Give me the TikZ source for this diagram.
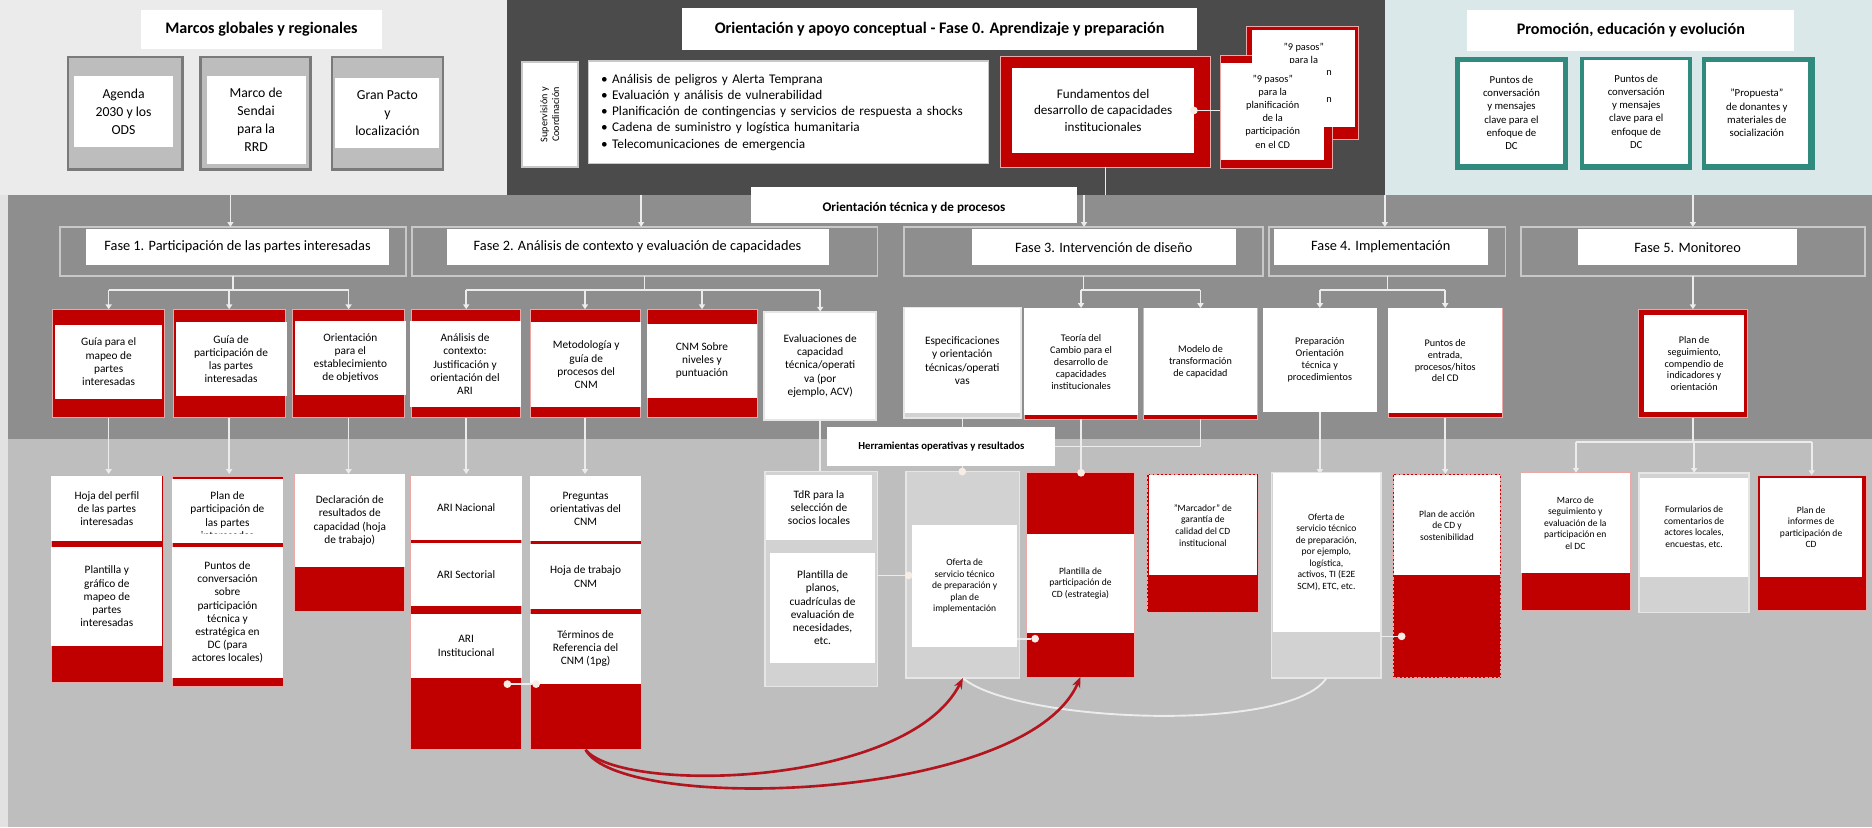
\documentclass[tikz,border=0pt]{standalone}
\usepackage{fontspec}
\setmainfont{Carlito}
\usetikzlibrary{arrows.meta}

\definecolor{bgL}{HTML}{EBEBEB}
\definecolor{bgD}{HTML}{4B4B4B}
\definecolor{bgT}{HTML}{DAE8E9}
\definecolor{bgM}{HTML}{8E8E8E}
\definecolor{bgB}{HTML}{BEBEBE}
\definecolor{strip}{HTML}{E2E2E2}
\definecolor{cred}{HTML}{C00000}
\definecolor{cpink}{HTML}{EBA8A8}
\definecolor{cgrayf}{HTML}{BDBDBD}
\definecolor{cgrayd}{HTML}{7A7A7A}
\definecolor{cteal}{HTML}{318A7E}
\definecolor{cframe}{HTML}{C8C8C8}
\definecolor{cline}{HTML}{ECECEC}
\definecolor{clg}{HTML}{D2D2D2}
\definecolor{clgd}{HTML}{E6E6E6}
\definecolor{carc}{HTML}{B3151E}
\definecolor{cdot}{HTML}{F8EDE4}

% box from top-left (x1,y1) to bottom-right (x2,y2)
\newcommand{\bx}[7]{\node[#2, anchor=north west, minimum width={(#5)-(#3)}, minimum height={(#6)-(#4)}] (#1) at (#3,#4) {#7};}

\tikzset{
  every node/.style={inner sep=0pt, outer sep=0pt},
  wbox/.style={fill=white, align=center},
  gbox/.style={fill=cgrayf, draw=cgrayd, line width=2pt},
  tbox/.style={fill=cteal},
  redbox/.style={fill=cred, draw=cpink, line width=0.7pt},
  reddash/.style={fill=cred, draw=cpink, line width=1.4pt, dash pattern=on 2pt off 1.5pt},
  lgbox/.style={fill=clg, draw=clgd, line width=1.5pt},
  fout/.style={draw=cframe, line width=1.4pt},
  conn/.style={draw=cline, line width=1.3pt},
  arr/.style={conn, -{Triangle[width=5pt,length=4pt]}},
  dot/.style={circle, fill=cdot, minimum size=6.5pt},
  redarc/.style={draw=carc, line width=2.2pt, -{Stealth[length=9pt,width=7pt]}},
  ttl/.style={font=\bfseries\fontsize{13.5}{16}\selectfont},
  t115/.style={font=\fontsize{11.5}{15}\selectfont},
  t11/.style={font=\fontsize{11}{13.5}\selectfont},
  tlist/.style={font=\fontsize{11.1}{13.6}\selectfont},
  t9/.style={font=\fontsize{9.5}{11}\selectfont},
  t9s/.style={font=\fontsize{9}{11}\selectfont},
  t87/.style={font=\fontsize{8.7}{11}\selectfont},
  t85/.style={font=\fontsize{8.5}{10}\selectfont},
  t8/.style={font=\fontsize{8}{9.7}\selectfont},
  tfase/.style={font=\fontsize{12}{14}\selectfont},
  tsup/.style={font=\fontsize{8.5}{10}\selectfont},
  therr/.style={font=\bfseries\fontsize{9}{11}\selectfont},
  tot/.style={font=\bfseries\fontsize{11}{13}\selectfont}
}

\begin{document}
\begin{tikzpicture}[x=1pt, y=-1pt]
\useasboundingbox (0,0) rectangle (1568,693);

% background bands
\fill[bgL] (0,0) rectangle (425,163);
\fill[bgD] (425,0) rectangle (1160,163);
\fill[bgT] (1160,0) rectangle (1568,163);
\fill[bgM] (0,163) rectangle (1568,368);
\fill[bgB] (0,368) rectangle (1568,693);
\fill[strip] (0,163) rectangle (7,693);

% ---------- global and regional frameworks ----------
\bx{tlt}{wbox,ttl}{118}{8}{320}{41}{Marcos globales y regionales}
\bx{gAo}{gbox}{57}{48}{153}{142}{}
\bx{gA}{wbox,t115}{62}{64}{145}{123}{Agenda\\2030 y los\\ODS}
\bx{gBo}{gbox}{168}{48}{260}{142}{}
\bx{gB}{wbox,t115}{173}{64}{256}{137}{Marco de\\Sendai\\para la\\RRD}
\bx{gCo}{gbox}{278}{48}{371}{142}{}
\bx{gC}{wbox,t115}{281}{65}{368}{124}{Gran Pacto\\y\\localización}

% ---------- phase 0 ----------
\bx{tmt}{wbox,ttl}{571}{7}{1003}{42}{Orientación y apoyo conceptual - Fase 0. Aprendizaje y preparación}
\bx{sup}{wbox,draw=cframe,line width=1.5pt}{437}{52}{484}{140}{}
\node[rotate=90, tsup, align=center] (suptx) at (sup.center) {Supervisión y\\Coordinación};
\bx{lst}{wbox,draw=cframe,line width=1.5pt,tlist,align=left,text width=314pt}{493}{51}{828}{137}{%
• Análisis de peligros y Alerta Temprana\\
• Evaluación y análisis de vulnerabilidad\\
• Planificación de contingencias y servicios de respuesta a shocks\\
• Cadena de suministro y logística humanitaria\\
• Telecomunicaciones de emergencia}
\bx{fundo}{redbox}{838}{47}{1014}{140}{}
\bx{fund}{wbox,t11}{848}{57}{1000}{128}{Fundamentos del\\desarrollo de capacidades\\institucionales}

% the "9 pasos" cards: back card partly hidden by the front one
\bx{p9bo}{redbox}{1044}{22}{1138}{117}{}
\bx{p9fo}{redbox}{1022}{46}{1116}{141}{}
\bx{p9b}{wbox}{1049}{25}{1135}{106}{}
\node[t87, align=center, anchor=north] (p9btx) at (1092,36) {"9 pasos"\\para la};
\node[t87, anchor=base east] (p9bn1) at (1115.5,63.5) {n};
\node[t87, anchor=base east] (p9bn2) at (1115.5,85.5) {n};
\draw[conn] (fund.east) -- (p9fo.west |- fund.east);
\bx{p9f}{wbox,t87}{1023}{53}{1109}{134}{"9 pasos"\\para la\\planificación\\de la\\participación\\en el CD}
\node[dot] (d0) at (fund.east) {};

% ---------- promotion ----------
\bx{trt}{wbox,ttl}{1229}{8}{1503}{43}{Promoción, educación y evolución}
\bx{tAo}{tbox}{1219}{48}{1313}{142}{}
\bx{tA}{wbox,t9s}{1223}{52}{1309}{137}{Puntos de\\conversación\\y mensajes\\clave para el\\enfoque de\\DC}
\bx{tBo}{tbox}{1323}{48}{1417}{142}{}
\bx{tB}{wbox,t9s}{1327}{50}{1414}{137}{Puntos de\\conversación\\y mensajes\\clave para el\\enfoque de\\DC}
\bx{tCo}{tbox}{1426}{48}{1520}{142}{}
\bx{tC}{wbox,t9s}{1429}{52}{1514}{137}{"Propuesta"\\de donantes y\\materiales de\\socialización}

% ---------- phases ----------
\coordinate (s0) at (926,163);
\coordinate (s1) at (193,163);
\coordinate (s2) at (537,163);
\coordinate (s3) at (908,163);
\coordinate (s4) at (1160,163);
\coordinate (s5) at (1418,163);
\draw[conn] (fundo.south) -- (s0);

\bx{f1o}{fout}{50}{190}{340}{231}{}
\bx{f2o}{fout}{345}{190}{735}{231}{}
\bx{f3o}{fout}{757}{190}{1058}{231}{}
\bx{f4o}{fout}{1063}{190}{1261}{231}{}
\bx{f5o}{fout}{1274}{190}{1562}{231}{}
\draw[arr] (s1) -- (s1 |- f1o.north);
\draw[arr] (s2) -- (s2 |- f2o.north);
\draw[arr] (s3) -- (s3 |- f3o.north);
\draw[arr] (s4) -- (s4 |- f4o.north);
\draw[arr] (s5) -- (s5 |- f5o.north);
\bx{f1}{wbox,tfase}{72}{192}{326}{222}{Fase 1. Participación de las partes interesadas}
\bx{f2}{wbox,tfase}{374}{192}{694}{222}{Fase 2. Análisis de contexto y evaluación de capacidades}
\bx{f3}{wbox,tfase}{814}{192}{1035}{222}{Fase 3. Intervención de diseño}
\bx{f4}{wbox,tfase}{1067}{192}{1246}{222}{Fase 4. Implementación}
\bx{f5}{wbox,tfase}{1322}{192}{1505}{222}{Fase 5. Monitoreo}

\bx{ot}{wbox}{629}{157}{902}{187}{}
\begin{scope}
  \clip (ot.north west) rectangle ([yshift=9pt]ot.south east);
  \node[tot, anchor=base] (ottx) at ([yshift=9.5pt]ot.south) {Orientación técnica y de procesos};
\end{scope}

% ---------- first row of guidance ----------
\bx{r1o}{redbox}{44}{259}{138}{350}{}
\bx{r1}{wbox,t9}{46}{272}{136}{334}{Guía para el\\mapeo de\\partes\\interesadas}
\bx{r2o}{redbox}{145}{259}{239}{350}{}
\bx{r2}{wbox,t9}{147}{270}{240}{332}{Guía de\\participación de\\las partes\\interesadas}
\bx{r3o}{redbox}{245}{259}{339}{350}{}
\bx{r3}{wbox,t9}{247}{269}{340}{331}{Orientación\\para el\\establecimiento\\de objetivos}
\bx{r4o}{redbox}{345}{259}{436}{350}{}
\bx{r4}{wbox,t9}{343}{269}{436}{341}{Análisis de\\contexto:\\Justificación y\\orientación del\\ARI}
\bx{r5o}{redbox}{444}{259}{536}{350}{}
\bx{r5}{wbox,t9}{445}{270}{537}{341}{Metodología y\\guía de\\procesos del\\CNM}
\bx{r6o}{redbox}{542}{259}{634}{350}{}
\bx{r6}{wbox,t9}{542}{271}{634}{333}{CNM Sobre\\niveles y\\puntuación}
\bx{r7o}{lgbox}{640}{261}{734}{352}{}
\bx{r7}{wbox,t9}{641}{262}{733}{351}{Evaluaciones de\\capacidad\\técnica/operati\\va (por\\ejemplo, ACV)}
\bx{r8o}{lgbox}{757}{258}{855}{350}{}
\bx{r8}{wbox,t9}{758}{258}{854}{346}{Especificaciones\\y orientación\\técnicas/operati\\vas}
\bx{r9o}{redbox}{858}{258}{953}{351}{}
\bx{r9}{wbox,t85}{858}{258}{953}{348}{Teoría del\\Cambio para el\\desarrollo de\\capacidades\\institucionales}
\bx{r10o}{redbox}{958}{258}{1053}{351}{}
\bx{r10}{wbox,t85}{958}{258}{1053}{348}{Modelo de\\transformación\\de capacidad}
\bx{r11}{wbox,t85}{1058}{258}{1153}{345}{Preparación\\Orientación\\técnica y\\procedimientos}
\bx{r12o}{redbox}{1163}{258}{1258}{350}{}
\bx{r12}{wbox,t85}{1163}{258}{1258}{346}{Puntos de\\entrada,\\procesos/hitos\\del CD}
\bx{r13o}{redbox}{1372}{259}{1464}{350}{}
\bx{r13}{wbox,t85}{1377}{264}{1461}{345}{Plan de\\seguimiento,\\compendio de\\indicadores y\\orientación}

% phase buses
\coordinate (bus) at (0,243);
\draw[conn] (f1o.south) -- (f1o.south |- bus);
\draw[conn] (r1o.north |- bus) -- (r3o.north |- bus);
\draw[arr] (r1o.north |- bus) -- (r1o.north);
\draw[arr] (r2o.north |- bus) -- (r2o.north);
\draw[arr] (r3o.north |- bus) -- (r3o.north);
\draw[conn] (f2o.south) -- (f2o.south |- bus);
\draw[conn] (r4o.north |- bus) -- (r7o.north |- bus);
\draw[arr] (r4o.north |- bus) -- (r4o.north);
\draw[arr] (r5o.north |- bus) -- (r5o.north);
\draw[arr] (r6o.north |- bus) -- (r6o.north);
\draw[arr] (r7o.north |- bus) -- (r7o.north);
\draw[conn] (f3o.south) -- (f3o.south |- bus);
\draw[conn] (r9o.north |- bus) -- (r10o.north |- bus);
\draw[arr] (r9o.north |- bus) -- (r9o.north);
\draw[arr] (r10o.north |- bus) -- (r10o.north);
\draw[conn] (f4o.south) -- (f4o.south |- bus);
\draw[conn] (r11.north |- bus) -- (r12o.north |- bus);
\draw[arr] (r11.north |- bus) -- (r11.north);
\draw[arr] (r12o.north |- bus) -- (r12o.north);
\draw[arr] (f5o.south) -- (r13o.north);

% ---------- second row: tools and results ----------
\coordinate (rowtwo) at (0,397);
\coordinate (bus5) at (0,370);
\coordinate (mj) at (860,374);
\draw[arr] (r1o.south) -- (r1o.south |- rowtwo);
\draw[arr] (r2o.south) -- (r2o.south |- rowtwo);
\draw[arr] (r3o.south) -- (r3o.south |- rowtwo);
\draw[arr] (r4o.south) -- (r4o.south |- rowtwo);
\draw[arr] (r5o.south) -- (r5o.south |- rowtwo);
\draw[conn] (r7o.south) -- (r7o.south |- rowtwo);
\draw[conn] (r8o.south) -- (r8o.south |- rowtwo);
\draw[conn] (r9o.south) -- (r9o.south |- rowtwo);
\draw[conn] (r10o.south) |- (mj);
\draw[arr] (r11.south) -- (r11.south |- rowtwo);
\draw[arr] (r12o.south) -- (r12o.south |- rowtwo);
\draw[conn] (r13o.south) -- (r13o.south |- bus5);

\bx{hb}{wbox,therr}{693}{358}{884}{390}{Herramientas operativas y resultados}

\bx{q1o}{redbox}{43}{398}{137}{572}{}
\bx{q1a}{wbox,t9}{43}{399}{136}{453}{Hoja del perfil\\de las partes\\interesadas}
\bx{q1b}{wbox,t9}{43}{458}{136}{541}{Plantilla y\\gráfico de\\mapeo de\\partes\\interesadas}
\bx{q2o}{redbox}{144}{399}{237}{575}{}
\bx{q2a}{wbox}{144}{401}{237}{455}{}
\begin{scope}
  \clip (q2a.north west) rectangle ([yshift=8pt]q2a.south east);
  \node[t9, align=center, anchor=north] (q2atx) at ([yshift=-11pt]q2a.north) {Plan de\\participación de\\las partes\\interesadas};
\end{scope}
\bx{q2b}{wbox,t9}{144}{458}{237}{568}{Puntos de\\conversación\\sobre\\participación\\técnica y\\estratégica en\\DC (para\\actores locales)}
\bx{q3o}{redbox}{247}{397}{339}{512}{}
\bx{q3}{wbox,t9}{247}{397}{339}{475}{Declaración de\\resultados de\\capacidad (hoja\\de trabajo)}
\bx{q4o}{redbox}{344}{398}{437}{628}{}
\bx{q4a}{wbox,t9}{344}{399}{437}{452}{ARI Nacional}
\bx{q4b}{wbox,t9}{344}{455}{437}{508}{ARI Sectorial}
\bx{q4c}{wbox,t9}{344}{514}{437}{568}{ARI\\Institucional}
\bx{q5o}{redbox}{444}{398}{537}{628}{}
\bx{q5a}{wbox,t9}{444}{399}{537}{453}{Preguntas\\orientativas del\\CNM}
\bx{q5b}{wbox,t9}{444}{456}{537}{510}{Hoja de trabajo\\CNM}
\bx{q5c}{wbox,t9}{444}{514}{537}{573}{Términos de\\Referencia del\\CNM (1pg)}
\bx{q6o}{lgbox}{641}{395}{735}{575}{}
\bx{q6a}{wbox,t9}{642}{398}{730}{452}{TdR para la\\selección de\\socios locales}
\bx{q6b}{wbox,t9}{645}{463}{733}{555}{Plantilla de\\planos,\\cuadrículas de\\evaluación de\\necesidades,\\etc.}
\bx{q7o}{lgbox}{759}{395}{854}{568}{}
\bx{q7}{wbox,t8}{764}{440}{852}{542}{Oferta de\\servicio técnico\\de preparación y\\plan de\\implementación}
\bx{q8o}{redbox}{860}{396}{950}{567}{}
\bx{q8}{wbox,t8}{860}{447}{950}{530}{Plantilla de\\participación de\\CD (estrategia)}
\bx{q9o}{reddash}{961}{397}{1054}{513}{}
\bx{q9}{wbox,t8}{962}{398}{1053}{482}{"Marcador" de\\garantía de\\calidad del CD\\institucional}
\bx{q10o}{lgbox}{1065}{396}{1157}{568}{}
\bx{q10}{wbox,t8}{1066}{396}{1156}{529}{Oferta de\\servicio técnico\\de preparación,\\por ejemplo,\\logística,\\activos, TI (E2E\\SCM), ETC, etc.}
\bx{q11o}{reddash}{1167}{397}{1257}{568}{}
\bx{q11}{wbox,t8}{1168}{398}{1256}{482}{Plan de acción\\de CD y\\sostenibilidad}
\bx{q12o}{redbox}{1274}{396}{1366}{511}{}
\bx{q12}{wbox,t8}{1274}{396}{1365}{480}{Marco de\\seguimiento y\\evaluación de la\\participación en\\el DC}
\bx{q13o}{lgbox}{1373}{396}{1465}{513}{}
\bx{q13}{wbox,t8}{1374}{400}{1464}{483}{Formularios de\\comentarios de\\actores locales,\\encuestas, etc.}
\bx{q14o}{redbox}{1472}{398}{1563}{511}{}
\bx{q14}{wbox,t8}{1474}{400}{1560}{483}{Plan de\\informes de\\participación de\\CD}

% monitoring bus
\draw[conn] (q12o.north |- bus5) -- (q14o.north |- bus5);
\draw[arr] (q12o.north |- bus5) -- (q12o.north);
\draw[arr] (q13o.north |- bus5) -- (q13o.north);
\draw[arr] (q14o.north |- bus5) -- (q14o.north);

% short links with dots
\node[dot] (dA) at (425,573) {};
\node[dot] (dB) at (449,573) {};
\draw[conn] (dA) -- (dB);
\node[dot] (dC) at (761,482) {};
\draw[conn] (q6o.east |- dC) -- (dC);
\node[dot] (dD) at (867,535) {};
\draw[conn] (q7.east |- dD) -- (dD);
\node[dot] (dE) at (1174,533) {};
\draw[conn] (q10o.east |- dE) -- (dE);
\node[dot] (dF) at (r8o.south |- q7o.north) {};
\node[dot] (dG) at (r9o.south |- q8o.north) {};

% curved links
\draw[conn, line width=1.6pt] (q7o.south) .. controls (850,605) and (1080,615) .. (q10o.south);
\draw[redarc] (q5o.south) .. controls (520,665) and (760,660) .. (q7o.south);
\draw[redarc] (q5o.south) .. controls (520,682) and (860,672) .. (q8o.south);

\end{tikzpicture}
\end{document}
